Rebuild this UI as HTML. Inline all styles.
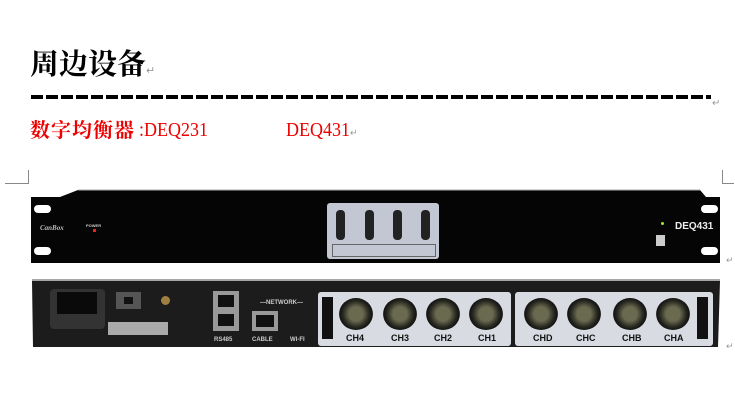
<!DOCTYPE html>
<html><head><meta charset="utf-8"><style>
body{margin:0;width:735px;height:403px;background:#fff;position:relative;overflow:hidden;font-family:"Liberation Serif","Noto Serif CJK SC",serif}
.a{position:absolute}
.hole{position:absolute;width:17px;height:8px;border-radius:4px;background:#fff}
.xlr{position:absolute;width:34px;height:32px;border-radius:50%;background:radial-gradient(circle,#6a6a50 0 30%,#2a2a22 55%,#111 70%,#777 74%,#333 80%)}
.lbl{position:absolute;font:bold 9px "Liberation Sans",sans-serif;color:#111}
.rl{position:absolute;font:bold 6px "Liberation Sans",sans-serif;color:#ccc}
</style></head><body>
<div class="a" style="left:30px;top:42px;font-size:29px;color:#000;font-family:'Noto Serif CJK SC',serif;font-weight:bold">周边设备<span style="font-size:11px;color:#999;font-weight:normal">↵</span></div>
<div class="a" style="left:31px;top:95px;width:680px;height:4px;background:repeating-linear-gradient(90deg,#000 0 12px,transparent 12px 15px)"></div>
<div class="a" style="left:712px;top:98px;font-size:10px;color:#999">↵</div>
<div class="a" style="left:30px;top:115px;font-size:20px;line-height:28px;color:#e00;font-family:'Noto Serif CJK SC',serif;font-weight:bold;white-space:nowrap;letter-spacing:1px">数字均衡器</div>
<div class="a" style="left:139px;top:119px;font-size:20px;color:#e00;font-family:'Liberation Serif',serif;white-space:nowrap;transform:scaleX(0.9);transform-origin:left">:DEQ231</div>
<div class="a" style="left:286px;top:119px;font-size:20px;color:#e00;font-family:'Liberation Serif',serif;white-space:nowrap;transform:scaleX(0.9);transform-origin:left">DEQ431<span style="font-size:10px;color:#999">↵</span></div>
<div class="a" style="left:5px;top:183px;width:23px;height:1px;background:#888"></div>
<div class="a" style="left:28px;top:170px;width:1px;height:14px;background:#888"></div>
<div class="a" style="left:722px;top:183px;width:12px;height:1px;background:#888"></div>
<div class="a" style="left:722px;top:170px;width:1px;height:14px;background:#888"></div>
<svg class="a" style="left:0;top:0" width="735" height="403">
<polygon points="31,197 60,197 78,190 700,190 706,197 720,197 720,263 31,263" fill="#050505"/>
<line x1="78" y1="190" x2="700" y2="190" stroke="#aaa" stroke-width="1"/>
<polygon points="32,281 720,281 718,347 33,347" fill="#1c1c1c"/>
<line x1="32" y1="280" x2="720" y2="280" stroke="#888" stroke-width="1.5"/>
</svg>
<div class="hole" style="left:34px;top:205px"></div><div class="hole" style="left:34px;top:247px"></div>
<div class="hole" style="left:701px;top:205px"></div><div class="hole" style="left:701px;top:247px"></div>
<div class="a" style="left:40px;top:224px;font:italic bold 7px 'Liberation Serif',serif;color:#bbb">CanBox</div>
<div class="rl" style="left:86px;top:223px;font-size:4px">POWER</div>
<div class="a" style="left:93px;top:229px;width:3px;height:3px;background:#e22"></div>
<div class="a" style="left:661px;top:222px;width:3px;height:3px;border-radius:50%;background:#9e3"></div>
<div class="a" style="left:675px;top:221px;font:bold 10px 'Liberation Sans',sans-serif;color:#eee">DEQ431</div>
<div class="a" style="left:656px;top:235px;width:9px;height:11px;background:#ccc"></div>
<div class="a" style="left:327px;top:203px;width:112px;height:56px;background:#c3c7d3;border-radius:3px"></div>
<div class="a" style="left:336px;top:210px;width:9px;height:30px;background:#222;border-radius:4px"></div>
<div class="a" style="left:365px;top:210px;width:9px;height:30px;background:#222;border-radius:4px"></div>
<div class="a" style="left:393px;top:210px;width:9px;height:30px;background:#222;border-radius:4px"></div>
<div class="a" style="left:421px;top:210px;width:9px;height:30px;background:#222;border-radius:4px"></div>
<div class="a" style="left:332px;top:244px;width:102px;height:11px;border:1px solid #666"></div>
<div class="a" style="left:50px;top:289px;width:55px;height:40px;background:#333;border-radius:4px"></div>
<div class="a" style="left:57px;top:292px;width:40px;height:22px;background:#0a0a0a"></div>
<div class="a" style="left:116px;top:292px;width:25px;height:17px;background:#555"></div>
<div class="a" style="left:124px;top:297px;width:9px;height:7px;background:#111"></div>
<div class="a" style="left:108px;top:322px;width:60px;height:13px;background:#aaa"></div>
<div class="a" style="left:161px;top:296px;width:9px;height:9px;border-radius:50%;background:#a08040"></div>
<div class="a" style="left:213px;top:291px;width:26px;height:40px;background:#999"></div>
<div class="a" style="left:218px;top:295px;width:16px;height:12px;background:#111"></div>
<div class="a" style="left:218px;top:314px;width:16px;height:12px;background:#111"></div>
<div class="a" style="left:252px;top:311px;width:26px;height:20px;background:#999"></div>
<div class="a" style="left:256px;top:315px;width:18px;height:12px;background:#111"></div>
<div class="rl" style="left:260px;top:300px">—NETWORK—</div>
<div class="rl" style="left:214px;top:337px">RS485</div>
<div class="rl" style="left:252px;top:337px">CABLE</div>
<div class="rl" style="left:290px;top:337px">WI-FI</div>
<div class="a" style="left:318px;top:292px;width:193px;height:54px;background:#d8dbe2;border-radius:3px"></div>
<div class="a" style="left:515px;top:292px;width:198px;height:54px;background:#d8dbe2;border-radius:3px"></div>
<div class="a" style="left:322px;top:297px;width:11px;height:42px;background:#111"></div>
<div class="a" style="left:697px;top:297px;width:11px;height:42px;background:#111"></div>
<div class="xlr" style="left:339px;top:298px"></div>
<div class="xlr" style="left:383px;top:298px"></div>
<div class="xlr" style="left:426px;top:298px"></div>
<div class="xlr" style="left:469px;top:298px"></div>
<div class="xlr" style="left:524px;top:298px"></div>
<div class="xlr" style="left:567px;top:298px"></div>
<div class="xlr" style="left:613px;top:298px"></div>
<div class="xlr" style="left:656px;top:298px"></div>
<div class="lbl" style="left:346px;top:333px">CH4</div>
<div class="lbl" style="left:391px;top:333px">CH3</div>
<div class="lbl" style="left:434px;top:333px">CH2</div>
<div class="lbl" style="left:478px;top:333px">CH1</div>
<div class="lbl" style="left:533px;top:333px">CHD</div>
<div class="lbl" style="left:576px;top:333px">CHC</div>
<div class="lbl" style="left:622px;top:333px">CHB</div>
<div class="lbl" style="left:664px;top:333px">CHA</div>
<div class="a" style="left:726px;top:255px;font-size:9px;color:#999">↵</div>
<div class="a" style="left:726px;top:341px;font-size:9px;color:#999">↵</div>
</body></html>
